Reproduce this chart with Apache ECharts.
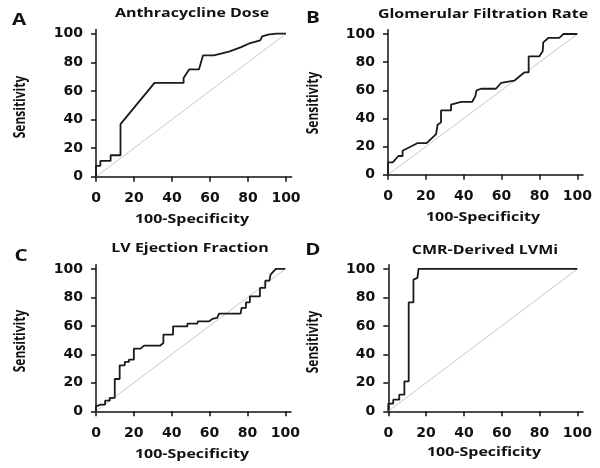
<!DOCTYPE html>
<html>
<head>
<meta charset="utf-8">
<script src="https://cdn.jsdelivr.net/npm/echarts@6/dist/echarts.min.js"></script>
<style>
  html, body { margin: 0; padding: 0; background: #fff; }
  #chart { width: 600px; height: 468px; }
</style>
</head>
<body>
<div id="chart"></div>
<script>
// ROC curves: x = 100-Specificity, y = Sensitivity
const xA = [0, 0, 2.3, 2.3, 7.7, 7.7, 12.9, 12.9, 30.8, 46.1, 46.1, 49, 54.2, 56.3, 62, 70, 76.4, 80.3, 86.4, 87.5, 90.5, 94.9, 100];
const yA = [0, 7.5, 7.5, 11, 11, 15, 15, 36.8, 65.6, 65.6, 69, 75, 75, 84.8, 84.8, 87.5, 90.6, 93, 95.3, 98.1, 99.3, 100, 100];

const xB = [0, 0, 2.5, 5.5, 7.7, 7.7, 15.7, 20.4, 25.4, 26.2, 28, 28, 33.3, 33.3, 38.6, 44.4, 46.1, 46.8, 49.1, 57, 59.7, 66.7, 72, 74.3, 74.3, 79.9, 81.7, 82, 84.7, 90.5, 92.6, 100];
const yB = [0, 8.8, 8.8, 13.3, 13.3, 17, 22.5, 22.5, 28.9, 35.5, 37.2, 45.7, 45.7, 49.8, 51.7, 51.7, 55.7, 60, 61.1, 61.1, 65.2, 66.8, 72.7, 72.7, 84.1, 84.1, 87.7, 94.1, 97.2, 97.2, 100, 100];

const xC = [0, 0, 2.5, 4.8, 4.8, 7.2, 7.2, 9.9, 9.9, 12.5, 12.5, 15.2, 15.2, 17.4, 17.4, 20, 20, 23.6, 25.4, 33.8, 35.6, 35.6, 40.7, 40.7, 48.3, 48.3, 53.5, 53.8, 59.7, 61.4, 64, 65, 76.4, 76.9, 79.2, 79.2, 81.3, 81.3, 86.6, 86.6, 89.4, 89.4, 91.6, 92.2, 95, 100];
const yC = [0, 3.5, 4.7, 4.7, 7.5, 7.5, 9.4, 9.4, 22.7, 22.7, 32.3, 32.3, 34.7, 34.7, 36.3, 36.3, 44, 44, 46.1, 46.1, 48, 53.9, 53.9, 59.7, 59.7, 61.6, 61.6, 63.2, 63.2, 64.9, 65.6, 68.6, 68.6, 72.6, 72.6, 76.6, 76.6, 80.8, 80.8, 86.7, 86.7, 91.8, 91.8, 96, 100, 100];

const xD = [0, 0, 2.6, 2.6, 5.8, 5.8, 8.5, 8.5, 10.8, 10.8, 13.3, 13.3, 15.4, 16, 100];
const yD = [0, 5.4, 5.4, 8.2, 8.2, 11.7, 11.7, 21, 21, 76.6, 76.6, 92.5, 93.7, 100, 100];

const chanceX = [0, 100];
const chanceY = [0, 100];
const tickValues = [0, 20, 40, 60, 80, 100];

const panels = [
  { letter: 'A', title: 'Anthracycline Dose', xs: xA, ys: yA },
  { letter: 'B', title: 'Glomerular Filtration Rate', xs: xB, ys: yB },
  { letter: 'C', title: 'LV Ejection Fraction', xs: xC, ys: yC },
  { letter: 'D', title: 'CMR-Derived LVMi', xs: xD, ys: yD },
];

// layout of each panel in pixels (plot box spans 0..103 on both axes)
const boxes = [
  { left: 96, top: 29.4, width: 195.7, height: 147.3, letter: [19, 21], title: [192, 14], yName: [20, 107], xName: [192, 220] },
  { left: 388, top: 29.8, width: 195, height: 144.9, letter: [313, 19], title: [483, 15], yName: [313, 103], xName: [483, 218] },
  { left: 96, top: 264.7, width: 195, height: 146.6, letter: [21, 257], title: [190, 249], yName: [20, 341], xName: [192, 455] },
  { left: 388.3, top: 264.7, width: 194.7, height: 146.6, letter: [313, 251], title: [485, 251], yName: [313, 342], xName: [484, 453] },
];

// the source figure is stretched sideways, so text is widened a bit
const STRETCH = 1.33;

const zip = (xs, ys) => xs.map((x, i) => [x, ys[i]]);

const axisLineStyle = { color: '#111', width: 1.5 };
const labelStyle = { fontFamily: 'DejaVu Sans', fontWeight: 'bold', fontSize: 14, color: '#111' };

const grid = boxes.map((b) => ({ left: b.left, top: b.top, width: b.width, height: b.height, containLabel: false }));

const makeAxis = (i, isX) => ({
  type: 'value',
  gridIndex: i,
  min: 0,
  max: 103,
  axisLine: { show: true, onZero: false, lineStyle: axisLineStyle },
  axisTick: { show: true, length: 5, customValues: tickValues, lineStyle: axisLineStyle },
  axisLabel: { ...labelStyle, customValues: tickValues, margin: isX ? 15 : 13 },
  splitLine: { show: false },
});

const series = [];
panels.forEach((p, i) => {
  series.push({
    type: 'line',
    xAxisIndex: i,
    yAxisIndex: i,
    data: zip(chanceX, chanceY),
    symbol: 'none',
    silent: true,
    lineStyle: { color: '#c8c8c8', width: 1 },
  });
  series.push({
    type: 'line',
    xAxisIndex: i,
    yAxisIndex: i,
    data: zip(p.xs, p.ys),
    symbol: 'none',
    lineStyle: { color: '#1a1a1a', width: 1.8 },
  });
});

const textEl = (x, y, text, font, extra = {}) => ({
  type: 'text',
  x,
  y,
  scaleX: STRETCH,
  ...extra,
  style: { text, align: 'center', verticalAlign: 'middle', font, fill: '#111' },
});

const graphic = [];
panels.forEach((p, i) => {
  const b = boxes[i];
  graphic.push(textEl(b.letter[0], b.letter[1], p.letter, 'bold 15.5px "Open Sans"'));
  graphic.push(textEl(b.title[0], b.title[1], p.title, 'bold 12px "Open Sans"'));
  graphic.push(textEl(b.xName[0], b.xName[1], '100-Specificity', 'bold 12px "Open Sans"'));
  graphic.push(
    textEl(b.yName[0], b.yName[1], 'Sensitivity', 'bold 12px "Open Sans"', {
      rotation: Math.PI / 2,
      scaleX: 1,
      scaleY: STRETCH,
    })
  );
});

const chart = echarts.init(document.getElementById('chart'), null, { renderer: 'canvas' });
chart.setOption({
  animation: false,
  backgroundColor: '#fff',
  grid,
  xAxis: panels.map((p, i) => makeAxis(i, true)),
  yAxis: panels.map((p, i) => makeAxis(i, false)),
  series,
  graphic,
});
</script>
</body>
</html>
